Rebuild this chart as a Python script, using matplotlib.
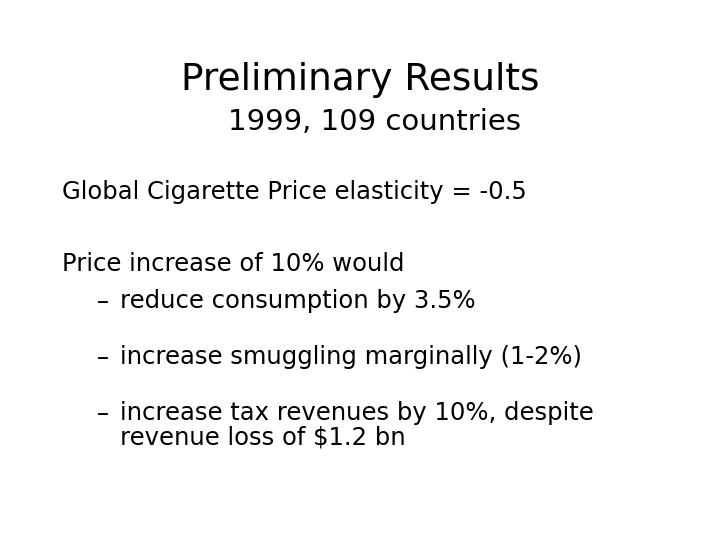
import matplotlib
matplotlib.use("Agg")
import matplotlib.pyplot as plt

title = "Preliminary Results"
subtitle = "1999, 109 countries"
lines = ["Global Cigarette Price elasticity = -0.5", "Price increase of 10% would"]
bullets = ["reduce consumption by 3.5%",
           "increase smuggling marginally (1-2%)",
           "increase tax revenues by 10%, despite\nrevenue loss of $1.2 bn"]

fig = plt.figure(figsize=(7.2, 5.4), dpi=100)
fig.patch.set_facecolor("white")
W, H = 720, 540
def t(x, y, s, **kw):
    fig.text(x / W, 1 - y / H, s, va="center", family="DejaVu Sans", color="black", **kw)

t(360, 80, title, ha="center", fontsize=27)
t(375, 122, subtitle, ha="center", fontsize=21)
t(62, 192, lines[0], ha="left", fontsize=17.5)
t(62, 264, lines[1], ha="left", fontsize=17.5)
for y, b in zip([302, 358, 414], bullets):
    t(97, y, "–", ha="left", fontsize=17.5)
    fig.text(120 / W, 1 - (y - 13) / H, b, va="top", ha="left", fontsize=17.5,
             family="DejaVu Sans", linespacing=1.05)
fig.savefig("out.png", dpi=100)
